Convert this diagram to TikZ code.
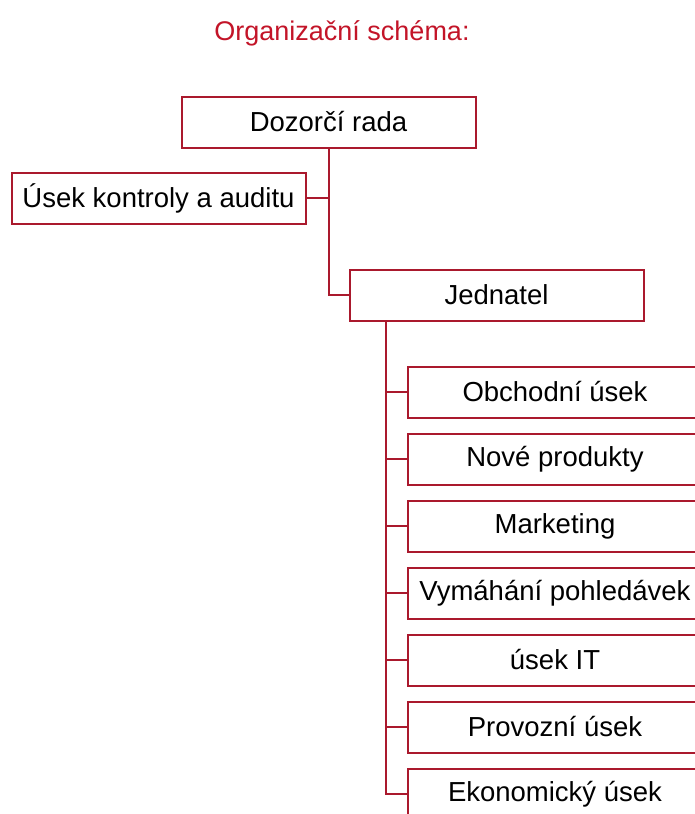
\documentclass[tikz,border=0pt]{standalone}
\usepackage{fontspec}
\setmainfont{Liberation Sans}
\usetikzlibrary{positioning}
\definecolor{boxred}{RGB}{170,25,45}
\definecolor{titlered}{RGB}{195,20,40}
\tikzset{
    orgbox/.style={draw=boxred,line width=2pt,minimum width=294pt,minimum height=51pt,inner sep=0pt,font=\fontsize{27.5}{32}\selectfont},
    orgline/.style={draw=boxred,line width=2pt}
}
\begin{document}
\begin{tikzpicture}[x=1pt,y=-1pt]
        \clip (0,0) rectangle (695,814);
        \fill[white] (0,0) rectangle (695,814);
        \node[anchor=center,text=titlered,font=\fontsize{27}{32}\selectfont] (title) at (342,33) {Organizační schéma:};
        \node[orgbox] (dozor) at (328.5,122) {Dozorčí rada};
        \node[orgbox] (audit) at (158.5,198) {Úsek kontroly a auditu};
        \node[orgbox] (jednatel) at (496.5,295) {Jednatel};
        \node[orgbox] (obchod) at (555,392) {Obchodní úsek};
        \node[orgbox,below=14pt of obchod] (produkty) {Nové produkty};
        \node[orgbox,below=14pt of produkty] (marketing) {Marketing};
        \node[orgbox,below=14pt of marketing] (pohledavky) {Vymáhání pohledávek};
        \node[orgbox,below=14pt of pohledavky] (it) {úsek IT};
        \node[orgbox,below=14pt of it] (provoz) {Provozní úsek};
        \node[orgbox,below=14pt of provoz] (ekonom) {Ekonomický úsek};
        \draw[orgline] (dozor.south) |- (jednatel.west);
        \draw[orgline] (audit.east) -- (audit.east -| dozor.south);
        \coordinate (spine) at ([xshift=-111pt]jednatel.south);
        \draw[orgline] (spine) |- (ekonom.west);
        \foreach \n in {obchod,produkty,marketing,pohledavky,it,provoz}
            \draw[orgline] (\n.west) -- (\n.west -| spine);
    \end{tikzpicture}
\end{document}
